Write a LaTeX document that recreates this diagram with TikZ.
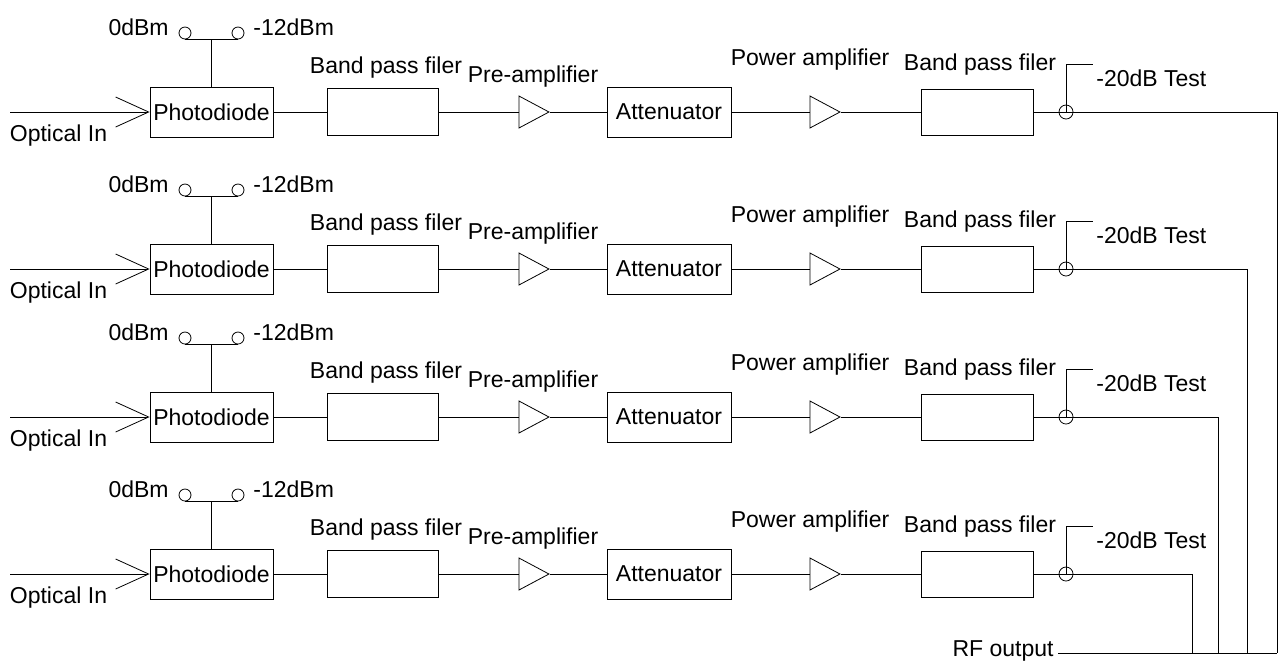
\documentclass[tikz,border=0pt]{standalone}
\usepackage{fontspec}
\setmainfont{Liberation Sans}
\usetikzlibrary{arrows.meta,positioning,shapes.geometric}
\tikzset{blk/.style={draw,rectangle,inner sep=1pt,minimum height=25pt},
         amp/.style={draw,isosceles triangle,isosceles triangle stretches,inner sep=0pt,minimum width=16pt,minimum height=15pt,anchor=apex},
         jack/.style={draw,circle,inner sep=0pt,minimum size=6pt},
         lbl/.style={inner sep=0pt}}

\begin{document}
\begin{tikzpicture}[-, >={Straight Barb[length=16.5pt,width=15pt]}, x=0.5pt, y=-0.5pt, thin, font=\fontsize{11.5}{13}\selectfont]
\useasboundingbox (0,0) rectangle (1283,666);
\foreach \r/\y/\xo in {1/112/1277, 2/269/1247, 3/417/1218, 4/574/1192}{
    % input and photodiode
    \coordinate (in\r) at (10,\y);
    \node[blk,minimum width=61.5pt] (pd\r) at (211.5,\y) {Photodiode};
    \node[lbl] (opt\r) at (58.5,\y+24) {Optical In};
    % level switch
    \node[jack] (swa\r) at (185,\y-79) {};
    \node[jack] (swb\r) at (238,\y-79) {};
    \node[lbl,anchor=east] (lva\r) at (169,\y-85) {0dBm};
    \node[lbl,anchor=west] (lvb\r) at (253,\y-85) {-12dBm};
    % chain
    \node[blk,minimum width=55.5pt,minimum height=23.5pt] (bpfa\r) at (382.5,\y) {};
    \node[lbl] (bpfal\r) at (386,\y-44) {Band pass filer};
    \node[amp] (pre\r) at (550,\y) {};
    \node[lbl] (prel\r) at (533,\y-35) {Pre-amplifier};
    \node[blk,minimum width=62pt] (att\r) at (669,\y) {Attenuator};
    \node[amp] (pwr\r) at (841,\y) {};
    \node[lbl] (pwrl\r) at (810,\y-52) {Power amplifier};
    \node[blk,minimum width=56pt,minimum height=23pt] (bpfb\r) at (977,\y) {};
    \node[lbl] (bpfbl\r) at (980,\y-47) {Band pass filer};
    % test tap and output
    \node[jack,minimum size=7pt] (tap\r) at (1066,\y) {};
    \coordinate (hk\r) at (1093,\y-48);
    \node[lbl,anchor=west] (test\r) at (1096,\y-34) {-20dB Test};
    \coordinate (oc\r) at (\xo,\y);
    \coordinate (ob\r) at (\xo,653);
    \draw[->] (in\r) -- (pd\r);
    \draw (swa\r.south) -- (swb\r.south);
    \draw (pd\r.north) -- (pd\r.north |- swa\r.south);
    \draw (pd\r) -- (bpfa\r) -- (pre\r) -- (att\r) -- (pwr\r) -- (bpfb\r) -- (tap\r.center) -- (oc\r) -- (ob\r);
    \draw (tap\r.center) |- (hk\r);
}
\node[lbl,anchor=east] (rf) at (1054,651) {RF output};
\draw ([xshift=2pt]rf.east |- ob1) -- (ob1);
\end{tikzpicture}
\end{document}
